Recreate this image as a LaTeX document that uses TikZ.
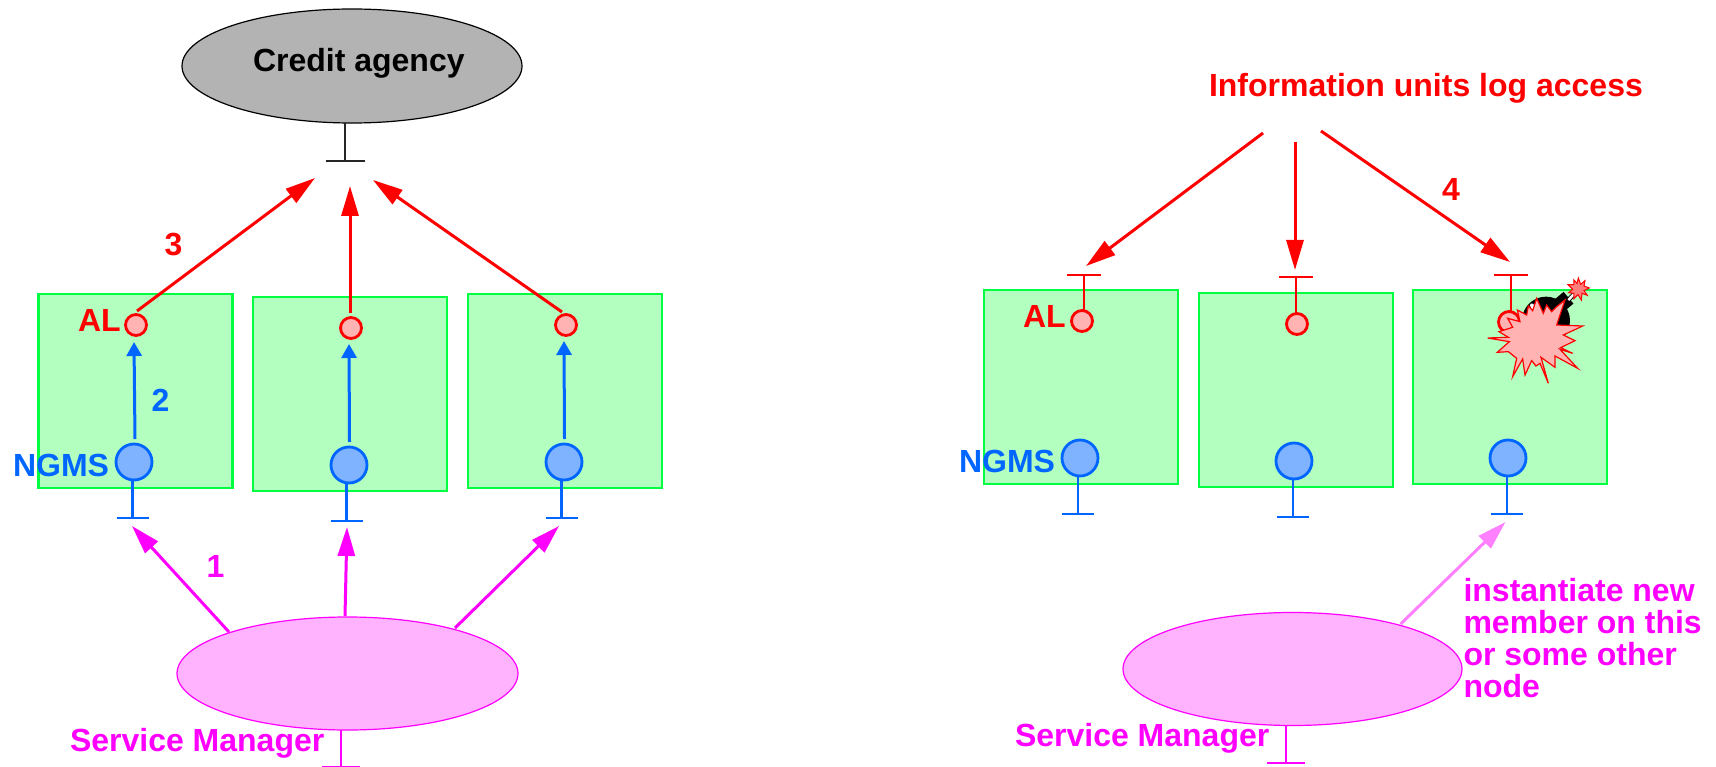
\documentclass[tikz,border=0pt]{standalone}
\usepackage{fontspec}
\setmainfont{Liberation Sans}
\usetikzlibrary{arrows.meta,shapes.geometric}
\definecolor{cred}{HTML}{FF0000}
\definecolor{cpink}{HTML}{FFB3B3}
\definecolor{cblue}{HTML}{0066FF}
\definecolor{cbluef}{HTML}{80B3FF}
\definecolor{cmag}{HTML}{FF00FF}
\definecolor{cmagf}{HTML}{FFB3FF}
\definecolor{cmagl}{HTML}{FF80FF}
\definecolor{cgreen}{HTML}{00FF40}
\definecolor{cgreenf}{HTML}{B3FFC0}
\definecolor{cgray}{HTML}{B3B3B3}
\tikzset{
  x=1pt,y=-1pt,
  lbl/.style={anchor=base west,inner sep=0pt,outer sep=0pt,font=\fontsize{32}{32}\selectfont\bfseries},
  hostbox/.style={draw=cgreen,fill=cgreenf,line width=2.8pt,minimum width=194pt,minimum height=194pt,inner sep=0pt,outer sep=0pt},
  alnode/.style={circle,draw=cred,fill=cpink,line width=2.8pt,minimum size=21pt,inner sep=0pt,outer sep=0pt},
  ngmsnode/.style={circle,draw=cblue,fill=cbluef,line width=2.8pt,minimum size=36pt,inner sep=0pt,outer sep=0pt},
  svc/.style={ellipse,draw=cmag,fill=cmagf,line width=1.2pt,inner sep=0pt,outer sep=0pt},
  redarrow/.style={draw=cred,line width=3pt,-{Triangle[length=30pt,width=17pt]}},
  bluearrow/.style={draw=cblue,line width=3pt,-{Triangle[length=14pt,width=15pt]}},
  magarrow/.style={draw=cmag,line width=3pt,-{Triangle[length=29pt,width=17pt]}},
  palearrow/.style={draw=cmagl,line width=3pt,-{Triangle[length=29pt,width=17pt]}},
  redstub/.style={draw=cred,line width=2.8pt},
  bluestub/.style={draw=cblue,line width=2.8pt},
  magstub/.style={draw=cmag,line width=1.2pt},
  blackstub/.style={draw=black!85,line width=1.2pt},
}
\newcommand{\barat}[3]{\draw[#1] ([xshift=-#3pt]#2) -- ([xshift=#3pt]#2);}
\begin{document}
\begin{tikzpicture}
\useasboundingbox (0,0) rectangle (1716,767);
% ---- left diagram
\node[hostbox] (b1) at (135.5,391) {};
\node[hostbox] (b2) at (350,394) {};
\node[hostbox] (b3) at (565,391) {};
\node[alnode] (a1) at (136,325) {};
\node[alnode] (a2) at (351,328) {};
\node[alnode] (a3) at (566,325) {};
\node[ngmsnode] (n1) at (134,462) {};
\node[ngmsnode] (n2) at (349,465) {};
\node[ngmsnode] (n3) at (564,462) {};
\node[ellipse,draw=black,fill=cgray,line width=1.2pt,inner sep=0pt,outer sep=0pt,minimum width=340pt,minimum height=114pt] (ca) at (352,66) {};
\node[svc,minimum width=341pt,minimum height=113pt] (sm1) at (347.5,673.5) {};
\node[svc,minimum width=339pt,minimum height=113pt] (sm2) at (1292.5,669) {};
\coordinate (cs) at (345,161);
\draw[blackstub] (ca.south -| cs) -- (cs);
\barat{blackstub}{cs}{19.5}
\coordinate (t1) at (315,178); \coordinate (f1) at (137,311);
\coordinate (t2) at (350,186); \coordinate (f2) at (350,313);
\coordinate (t3) at (373,180); \coordinate (f3) at (562,312);
\draw[redarrow] (f1) -- (t1);
\draw[redarrow] (f2) -- (t2);
\draw[redarrow] (f3) -- (t3);
\coordinate (u1) at (134,342); \coordinate (v1) at (135,439);
\coordinate (u2) at (349,344); \coordinate (v2) at (349.5,442);
\coordinate (u3) at (564,341); \coordinate (v3) at (564.5,439);
\draw[bluearrow] (v1) -- (u1);
\draw[bluearrow] (v2) -- (u2);
\draw[bluearrow] (v3) -- (u3);
\coordinate (s1) at (132.5,518); \coordinate (s2) at (346.5,521); \coordinate (s3) at (561.5,518);
\draw[bluestub] (n1.south -| s1) -- (s1); \barat{bluestub}{s1}{16}
\draw[bluestub] (n2.south -| s2) -- (s2); \barat{bluestub}{s2}{16}
\draw[bluestub] (n3.south -| s3) -- (s3); \barat{bluestub}{s3}{16}
\coordinate (m1) at (229,632); \coordinate (p1) at (132,526);
\coordinate (m2) at (345,616); \coordinate (p2) at (347,527);
\coordinate (m3) at (455,628); \coordinate (p3) at (559,526);
\draw[magarrow] (m1) -- (p1);
\draw[magarrow] (m2) -- (p2);
\draw[magarrow] (m3) -- (p3);
\coordinate (ms1) at (341,766.5);
\draw[magstub] (sm1.south -| ms1) -- (ms1);
\barat{magstub}{ms1}{19}
\node[lbl] (tc) at (253,71.5) {Credit agency};
\node[lbl,text=cred] (l3) at (164.5,256) {3};
\node[lbl,text=cred] (lal1) at (78,331.5) {AL};
\node[lbl,text=cblue] (l2) at (151.5,411.5) {2};
\node[lbl,text=cblue] (ln1) at (13,476.5) {NGMS};
\node[lbl,text=cmag] (l1) at (206.5,577) {1};
\node[lbl,text=cmag] (lsm1) at (70,751) {Service Manager};
% ---- right diagram
\node[hostbox] (B1) at (1081,387) {};
\node[hostbox] (B2) at (1296,390) {};
\node[hostbox] (B3) at (1510,387) {};
\node[alnode] (A1) at (1082,321) {};
\node[alnode] (A2) at (1297,324) {};
\node[alnode] (A3) at (1509,322) {};
\node[ngmsnode] (N1) at (1080,458) {};
\node[ngmsnode] (N2) at (1294,461) {};
\node[ngmsnode] (N3) at (1508,458) {};
\coordinate (R1) at (1084,275); \coordinate (R2) at (1296,277); \coordinate (R3) at (1511,275);
\draw[redstub] (A1.north -| R1) -- (R1); \barat{redstub}{R1}{17}
\draw[redstub] (A2.north -| R2) -- (R2); \barat{redstub}{R2}{17}
\draw[redstub] (A3.north -| R3) -- (R3); \barat{redstub}{R3}{17}
\coordinate (S1) at (1078,514); \coordinate (S2) at (1293,517); \coordinate (S3) at (1507,514);
\draw[bluestub] (N1.south -| S1) -- (S1); \barat{bluestub}{S1}{16}
\draw[bluestub] (N2.south -| S2) -- (S2); \barat{bluestub}{S2}{16}
\draw[bluestub] (N3.south -| S3) -- (S3); \barat{bluestub}{S3}{16}
\coordinate (F1) at (1263,133); \coordinate (T1) at (1086,266);
\coordinate (F2) at (1295,142); \coordinate (T2) at (1295,270);
\coordinate (F3) at (1321,131); \coordinate (T3) at (1510,262);
\draw[redarrow] (F1) -- (T1);
\draw[redarrow] (F2) -- (T2);
\draw[redarrow] (F3) -- (T3);
\coordinate (M) at (1400.6,624); \coordinate (P) at (1505.5,522);
\draw[palearrow] (M) -- (P);
\coordinate (ms2) at (1286,763);
\draw[magstub] (sm2.south -| ms2) -- (ms2);
\barat{magstub}{ms2}{19}
% bomb and explosion
\begin{scope}[shift={(1380,250)},x=0.3333pt,y=-0.3333pt]
\fill[black] (498,212) circle[radius=72];
\fill[black,rotate around={40:(548,158)}] (525,135) rectangle (571,181);
\fill[white,rotate around={35:(460,172)}] (460,172) ellipse[x radius=7,y radius=14];
\draw[black,line width=4.5pt] (565,150) -- (592,122);
\draw[white,line width=2.5pt] (565,150) -- (592,122);
\filldraw[draw=cred,fill=cpink!70!red,line width=1pt]
  (595,84)--(602,103)--(615,92)--(612,108)--(628,114)--(612,122)--(622,136)--(606,130)--(604,150)--(594,134)--(582,146)--(582,130)--(566,128)--(578,118)--(564,104)--(582,104)--(582,90)--(591,100)--cycle;
\filldraw[draw=cred,fill=cpink,line width=1.2pt]
  (323,264)--(385,262)--(357,245)--(398,232)--(383,205)--(420,215)--(412,180)--(440,195)--(445,168)--(458,182)--(470,145)--(490,190)--(500,165)--(515,185)--(530,170)--(555,150)--(530,225)--(608,228)--(550,255)--(585,272)--(542,293)--(578,310)--(540,298)--(593,355)--(525,318)--(525,352)--(483,322)--(505,400)--(480,340)--(468,348)--(455,332)--(435,375)--(428,327)--(398,380)--(410,325)--(385,305)--(352,307)--(388,275)--cycle;
\end{scope}
\node[lbl,text=cred] (tinf) at (1209,97) {Information units log access};
\node[lbl,text=cred] (l4) at (1442,201) {4};
\node[lbl,text=cred] (lal2) at (1023,327.5) {AL};
\node[lbl,text=cblue] (ln2) at (959,472.5) {NGMS};
\node[lbl,text=cmag] (lsm2) at (1015,746) {Service Manager};
\node[lbl,text=cmag] (ti1) at (1463.5,601) {instantiate new};
\node[lbl,text=cmag] (ti2) at (1463.5,633) {member on this};
\node[lbl,text=cmag] (ti3) at (1463.5,665) {or some other};
\node[lbl,text=cmag] (ti4) at (1463.5,697) {node};
\end{tikzpicture}
\end{document}
